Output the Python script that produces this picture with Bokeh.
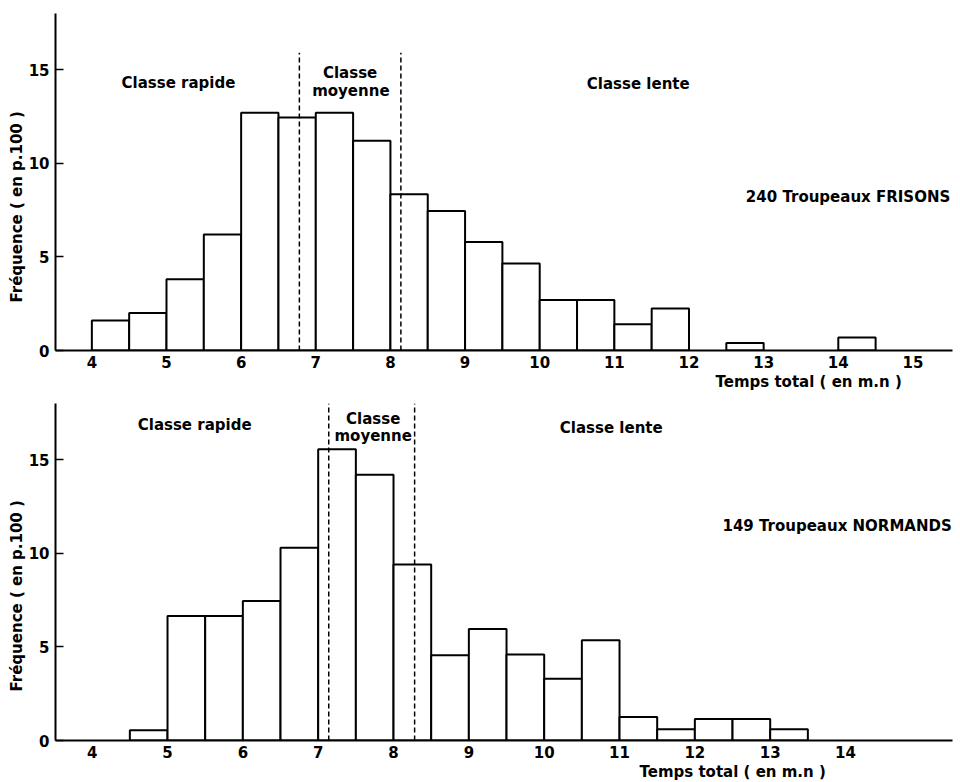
import math
from bokeh.plotting import figure
from bokeh.layouts import column
from bokeh.models import Range1d, FixedTicker, Label, ColumnDataSource, Title
from bokeh.embed import file_html
from bokeh.resources import INLINE

# ---------------- data ----------------
bin_width = 0.5

frisons_left = [4.0, 4.5, 5.0, 5.5, 6.0, 6.5, 7.0, 7.5, 8.0, 8.5, 9.0, 9.5,
                10.0, 10.5, 11.0, 11.5, 12.5, 14.0]
frisons_freq = [1.6, 2.0, 3.8, 6.2, 12.7, 12.45, 12.7, 11.2, 8.35, 7.45, 5.8, 4.65,
                2.7, 2.7, 1.4, 2.25, 0.4, 0.7]
frisons_limits = [6.78, 8.14]
frisons_ticks = [4, 5, 6, 7, 8, 9, 10, 11, 12, 13, 14, 15]
frisons_title = "240 Troupeaux FRISONS"

normands_left = [4.5, 5.0, 5.5, 6.0, 6.5, 7.0, 7.5, 8.0, 8.5, 9.0, 9.5, 10.0,
                 10.5, 11.0, 11.5, 12.0, 12.5, 13.0]
normands_freq = [0.55, 6.65, 6.65, 7.45, 10.3, 15.55, 14.2, 9.4, 4.55, 5.95, 4.6, 3.3,
                 5.35, 1.25, 0.6, 1.15, 1.15, 0.6]
normands_limits = [7.14, 8.28]
normands_ticks = [4, 5, 6, 7, 8, 9, 10, 11, 12, 13, 14]
normands_title = "149 Troupeaux NORMANDS"

y_ticks = [0, 5, 10, 15]
class_fast = "Classe rapide"
class_mid = ["Classe", "moyenne"]
class_slow = "Classe lente"
x_title = "Temps total ( en m.n )"
y_title = "Fr\u00e9quence ( en p.100 )"

FONT = "DejaVu Sans"
FS = "15px"


def lab(p, x, y, text, align="center"):
    p.add_layout(Label(x=x, y=y, text=text, text_font=FONT, text_font_size=FS,
                       text_font_style="bold", text_color="black",
                       text_align=align, text_baseline="middle"))


def make_panel(lefts, freqs, limits, limit_top, xticks, x_end, border_right,
               pos):
    p = figure(width=960, height=390,
               x_range=Range1d(3.513, x_end), y_range=Range1d(0, 18),
               output_backend="svg", toolbar_location=None,
               min_border_left=55, min_border_right=border_right,
               min_border_top=13, min_border_bottom=40)
    p.xgrid.visible = False
    p.ygrid.visible = False
    p.outline_line_color = None
    p.background_fill_color = "white"
    p.border_fill_color = "white"

    src = ColumnDataSource(dict(left=lefts,
                                right=[l + bin_width for l in lefts],
                                top=freqs))
    p.quad(left="left", right="right", bottom=0, top="top", source=src,
           fill_color="white", line_color="black", line_width=2)

    p.segment(x0=limits, y0=[0] * len(limits), x1=limits,
              y1=[limit_top] * len(limits),
              line_color="black", line_width=1.5, line_dash="5 3")

    for ax in (p.xaxis[0], p.yaxis[0]):
        ax.axis_line_width = 2
        ax.axis_line_color = "black"
        ax.minor_tick_line_color = None
        ax.major_label_text_font = FONT
        ax.major_label_text_font_size = FS
        ax.major_label_text_font_style = "bold"
        ax.major_label_text_color = "black"
        ax.major_tick_line_color = "black"
        ax.major_tick_line_width = 1.5

    p.xaxis.ticker = FixedTicker(ticks=xticks)
    p.xaxis.major_tick_in = 0
    p.xaxis.major_tick_out = 0
    p.xaxis.major_label_standoff = 5

    p.yaxis.ticker = FixedTicker(ticks=y_ticks)
    p.yaxis.major_tick_in = 8
    p.yaxis.major_tick_out = 0
    p.yaxis.major_label_standoff = 6

    for (x, y, align), text in pos["texts"]:
        lab(p, x, y, text, align)

    p.add_layout(Title(text=x_title, align="left", offset=pos["xt_offset"],
                       standoff=0, text_font=FONT, text_font_size=FS,
                       text_font_style="bold", text_color="black"), "below")
    p.add_layout(Title(text=y_title, align="left", offset=pos["yt_offset"],
                       standoff=0, text_font=FONT, text_font_size=FS,
                       text_font_style="bold", text_color="black"), "left")
    return p


top_pos = {
    "texts": [((5.16, 14.3, "center"), class_fast),
              ((7.46, 14.8, "center"), class_mid[0]),
              ((7.47, 13.85, "center"), class_mid[1]),
              ((11.32, 14.23, "center"), class_slow),
              ((15.5, 8.18, "right"), frisons_title)],
    "xt_offset": 660,
    "yt_offset": 48,
}
bot_pos = {
    "texts": [((5.36, 16.84, "center"), class_fast),
              ((7.73, 17.15, "center"), class_mid[0]),
              ((7.73, 16.26, "center"), class_mid[1]),
              ((10.89, 16.7, "center"), class_slow),
              ((15.41, 11.44, "right"), normands_title)],
    "xt_offset": 584,
    "yt_offset": 49,
}

p1 = make_panel(frisons_left, frisons_freq, frisons_limits, 15.9,
                frisons_ticks, 15.53, 0, top_pos)
p2 = make_panel(normands_left, normands_freq, normands_limits, 18.0,
                normands_ticks, 15.42, 8, bot_pos)

layout = column(p1, p2, spacing=0)
open("out.html", "w").write(file_html(layout, INLINE))
